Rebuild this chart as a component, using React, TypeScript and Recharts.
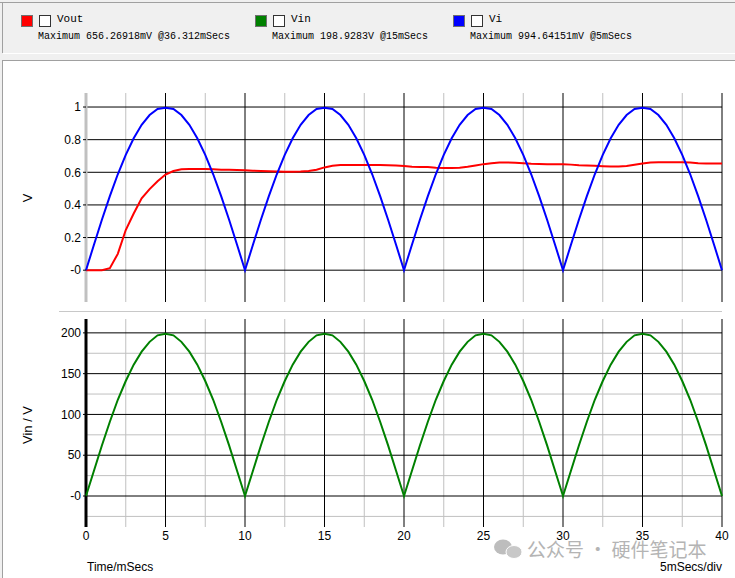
import { CartesianGrid, Line, LineChart, ReferenceLine, XAxis, YAxis } from "recharts";

// time base, 0.5 ms per sample
const TIME_MS = [
  0, 0.5, 1, 1.5, 2, 2.5, 3, 3.5, 4, 4.5, 5,
  5.5, 6, 6.5, 7, 7.5, 8, 8.5, 9, 9.5, 10,
  10.5, 11, 11.5, 12, 12.5, 13, 13.5, 14, 14.5, 15,
  15.5, 16, 16.5, 17, 17.5, 18, 18.5, 19, 19.5, 20,
  20.5, 21, 21.5, 22, 22.5, 23, 23.5, 24, 24.5, 25,
  25.5, 26, 26.5, 27, 27.5, 28, 28.5, 29, 29.5, 30,
  30.5, 31, 31.5, 32, 32.5, 33, 33.5, 34, 34.5, 35,
  35.5, 36, 36.5, 37, 37.5, 38, 38.5, 39, 39.5, 40,
];

const VI = [
  0, 0.156, 0.309, 0.454, 0.588, 0.707, 0.809, 0.891, 0.951, 0.988, 0.995,
  0.988, 0.951, 0.891, 0.809, 0.707, 0.588, 0.454, 0.309, 0.156, 0,
  0.156, 0.309, 0.454, 0.588, 0.707, 0.809, 0.891, 0.951, 0.988, 0.995,
  0.988, 0.951, 0.891, 0.809, 0.707, 0.588, 0.454, 0.309, 0.156, 0,
  0.156, 0.309, 0.454, 0.588, 0.707, 0.809, 0.891, 0.951, 0.988, 0.995,
  0.988, 0.951, 0.891, 0.809, 0.707, 0.588, 0.454, 0.309, 0.156, 0,
  0.156, 0.309, 0.454, 0.588, 0.707, 0.809, 0.891, 0.951, 0.988, 0.995,
  0.988, 0.951, 0.891, 0.809, 0.707, 0.588, 0.454, 0.309, 0.156, 0,
];

const VOUT = [
  0, 0, 0, 0.012, 0.1, 0.246, 0.347, 0.44, 0.497, 0.545, 0.586,
  0.608, 0.618, 0.62, 0.62, 0.62, 0.618, 0.616, 0.615, 0.614, 0.612,
  0.61, 0.608, 0.606, 0.605, 0.604, 0.604, 0.605, 0.608, 0.616, 0.63,
  0.64, 0.644, 0.645, 0.645, 0.645, 0.644, 0.644, 0.643, 0.642, 0.638,
  0.634, 0.633, 0.632, 0.628, 0.627, 0.627, 0.628, 0.634, 0.642, 0.65,
  0.656, 0.66, 0.66, 0.658, 0.655, 0.652, 0.651, 0.65, 0.65, 0.649,
  0.647, 0.643, 0.641, 0.64, 0.637, 0.635, 0.635, 0.638, 0.646, 0.654,
  0.66, 0.662, 0.662, 0.662, 0.661, 0.66, 0.656, 0.654, 0.654, 0.654,
];

const VIN = [
  0, 31, 62, 91, 118, 141, 161, 177, 189, 197, 199,
  197, 189, 177, 161, 141, 118, 91, 62, 31, 0,
  31, 62, 91, 118, 141, 161, 177, 189, 197, 199,
  197, 189, 177, 161, 141, 118, 91, 62, 31, 0,
  31, 62, 91, 118, 141, 161, 177, 189, 197, 199,
  197, 189, 177, 161, 141, 118, 91, 62, 31, 0,
  31, 62, 91, 118, 141, 161, 177, 189, 197, 199,
  197, 189, 177, 161, 141, 118, 91, 62, 31, 0,
];

const MAJOR_T = [0, 5, 10, 15, 20, 25, 30, 35, 40];
const MINOR_T = [2.5, 7.5, 12.5, 17.5, 22.5, 27.5, 32.5, 37.5];
const V_TICKS = [0, 0.2, 0.4, 0.6, 0.8, 1];
const VIN_TICKS = [0, 50, 100, 150, 200];
const VIN_MINOR = [-25, 25, 75, 125, 175];

const LEGEND = [
  { name: "Vout", color: "#ff0000", max: "Maximum 656.26918mV @36.312mSecs", x: 21 },
  { name: "Vin", color: "#008000", max: "Maximum 198.9283V @15mSecs", x: 255 },
  { name: "Vi", color: "#0000ff", max: "Maximum 994.64151mV @5mSecs", x: 453 },
];

const data = TIME_MS.map((t, i) => ({ t, vi: VI[i], vout: VOUT[i], vin: VIN[i] }));

const SANS = '"Liberation Sans", Arial, sans-serif';
const MONO = '"Liberation Mono", "DejaVu Sans Mono", monospace';
const tickStyle = { fontSize: 12, fill: "#000", fontFamily: SANS };
const fmt = (v: number) => (v === 0 ? "-0" : String(v));

export default function App() {
  return (
    <div
      style={{
        position: "absolute",
        left: 0,
        top: 0,
        width: 735,
        height: 578,
        background: "#f0f0f0",
        overflow: "hidden",
        fontFamily: SANS,
      }}
    >
      {/* legend panel */}
      <div style={{ position: "absolute", left: 0, top: 2, width: 735, height: 1, background: "#a0a0a0" }} />
      <div style={{ position: "absolute", left: 2, top: 2, width: 1, height: 51, background: "#a0a0a0" }} />
      <div style={{ position: "absolute", left: 3, top: 53, width: 732, height: 1, background: "#ffffff" }} />
      {LEGEND.map((l) => (
        <div key={l.name}>
          <div
            style={{
              position: "absolute",
              left: l.x,
              top: 15,
              width: 10,
              height: 10,
              background: l.color,
              border: "1px solid #707070",
            }}
          />
          <div
            style={{
              position: "absolute",
              left: l.x + 18,
              top: 15,
              width: 10,
              height: 10,
              background: "#fff",
              border: "1px solid #333",
            }}
          />
          <div
            style={{
              position: "absolute",
              left: l.x + 36,
              top: 13,
              fontFamily: MONO,
              fontSize: 11,
              color: "#000",
            }}
          >
            {l.name}
          </div>
          <div
            style={{
              position: "absolute",
              left: l.x + 17,
              top: 31,
              fontFamily: MONO,
              fontSize: 10,
              color: "#000",
              whiteSpace: "nowrap",
            }}
          >
            {l.max}
          </div>
        </div>
      ))}

      {/* plot panel */}
      <div
        style={{
          position: "absolute",
          left: 2,
          top: 60,
          width: 733,
          height: 518,
          background: "#fff",
          borderTop: "1px solid #a0a0a0",
          borderLeft: "1px solid #a0a0a0",
        }}
      />
      <div style={{ position: "absolute", left: 59, top: 311, width: 663, height: 1, background: "#c8c8c8" }} />

      {/* upper trace: Vi and Vout */}
      <div style={{ position: "absolute", left: 0, top: 0 }}>
        <LineChart width={735} height={320} data={data} margin={{ top: 93, right: 13, bottom: 18, left: 0 }}>
          <XAxis xAxisId="t" dataKey="t" type="number" domain={[0, 40]} ticks={MAJOR_T} height={0} hide />
          <XAxis xAxisId="m" dataKey="t" type="number" domain={[0, 40]} ticks={MINOR_T} height={0} hide />
          <YAxis
            yAxisId="v"
            type="number"
            domain={[-0.195, 1.086]}
            ticks={V_TICKS}
            allowDataOverflow
            width={86}
            axisLine={false}
            tickLine={{ stroke: "#000" }}
            tickSize={3}
            tickMargin={2}
            tick={tickStyle}
            tickFormatter={fmt}
          />
          <CartesianGrid xAxisId="m" yAxisId="v" horizontal={false} stroke="#c0c0c0" strokeOpacity={1} syncWithTicks />
          <CartesianGrid xAxisId="t" yAxisId="v" stroke="#000" strokeOpacity={1} syncWithTicks />
          <ReferenceLine xAxisId="t" yAxisId="v" x={0} stroke="#c0c0c0" strokeWidth={3} />
          <Line
            xAxisId="t"
            yAxisId="v"
            dataKey="vout"
            type="linear"
            stroke="#ff0000"
            strokeWidth={2}
            dot={false}
            isAnimationActive={false}
          />
          <Line
            xAxisId="t"
            yAxisId="v"
            dataKey="vi"
            type="linear"
            stroke="#0000ff"
            strokeWidth={2}
            dot={false}
            isAnimationActive={false}
          />
        </LineChart>
      </div>

      {/* lower trace: Vin */}
      <div style={{ position: "absolute", left: 0, top: 300 }}>
        <LineChart width={735} height={278} data={data} margin={{ top: 19, right: 13, bottom: 0, left: 0 }}>
          <XAxis
            xAxisId="t"
            dataKey="t"
            type="number"
            domain={[0, 40]}
            ticks={MAJOR_T}
            height={51}
            axisLine={false}
            tickLine={false}
            tickSize={0}
            tickMargin={4}
            tick={tickStyle}
          />
          <XAxis xAxisId="m" dataKey="t" type="number" domain={[0, 40]} ticks={MINOR_T} height={0} hide />
          <YAxis
            yAxisId="v"
            type="number"
            domain={[-38, 217]}
            ticks={VIN_TICKS}
            allowDataOverflow
            width={86}
            axisLine={false}
            tickLine={{ stroke: "#000" }}
            tickSize={3}
            tickMargin={2}
            tick={tickStyle}
            tickFormatter={fmt}
          />
          <YAxis yAxisId="mv" type="number" domain={[-38, 217]} ticks={VIN_MINOR} allowDataOverflow width={0} hide />
          <CartesianGrid xAxisId="m" yAxisId="mv" stroke="#c0c0c0" strokeOpacity={1} syncWithTicks />
          <CartesianGrid xAxisId="t" yAxisId="v" stroke="#000" strokeOpacity={1} syncWithTicks />
          <ReferenceLine xAxisId="t" yAxisId="v" x={0} stroke="#000" strokeWidth={3} />
          <Line
            xAxisId="t"
            yAxisId="v"
            dataKey="vin"
            type="linear"
            stroke="#008000"
            strokeWidth={2}
            dot={false}
            isAnimationActive={false}
          />
        </LineChart>
      </div>

      {/* axis titles and footer */}
      <svg
        width={735}
        height={578}
        style={{ position: "absolute", left: 0, top: 0, pointerEvents: "none" }}
      >
        <text x={27} y={198} transform="rotate(-90 27 198)" textAnchor="middle" dominantBaseline="central" fontSize={13} fontFamily={SANS} fill="#000">
          V
        </text>
        <text x={27} y={425} transform="rotate(-90 27 425)" textAnchor="middle" dominantBaseline="central" fontSize={13} fontFamily={SANS} fill="#000">
          Vin / V
        </text>
        <text x={87} y={571} fontSize={12} fontFamily={SANS} fill="#000">
          Time/mSecs
        </text>
        <text x={722} y={571} textAnchor="end" fontSize={12} fontFamily={SANS} fill="#000">
          5mSecs/div
        </text>
        <ellipse cx={503} cy={547} rx={9} ry={7.5} fill="#bdbdbd" />
        <ellipse cx={514} cy={552} rx={8} ry={6.5} fill="#c8c8c8" stroke="#fff" strokeWidth={1} />
        <text x={527} y={548} dominantBaseline="central" fontSize={19} fontFamily='"Noto Sans CJK SC", sans-serif' fill="#b4b4b4">
          公众号 · 硬件笔记本
        </text>
      </svg>
    </div>
  );
}
